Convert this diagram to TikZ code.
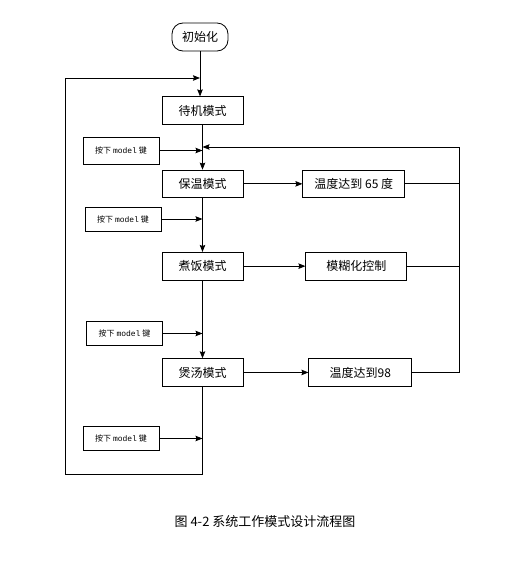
\documentclass[tikz,border=0pt]{standalone}
\usepackage{fontspec}
\setmainfont{Noto Sans CJK SC}
\setmonofont{Liberation Mono}
\usetikzlibrary{positioning, arrows.meta}
\tikzset{
    >={Stealth[length=7pt,width=5.5pt,inset=1pt]}, % filled arrow heads
    every path/.style={line width=0.8pt}, % all lines the same width
    modebox/.style={draw, rectangle, minimum width=81pt, minimum height=27.5pt, inner sep=0pt, font=\fontsize{12}{14}\selectfont}, % the mode boxes in the middle column
    sidebox/.style={modebox, minimum width=102pt}, % the boxes on the right
    keybox/.style={draw, rectangle, minimum width=76pt, minimum height=24pt, inner sep=0pt, font=\fontsize{8}{10}\selectfont}, % the key boxes on the left
}
\newcommand{\keytext}{按下 {\ttfamily model} 键}

\begin{document}
\begin{tikzpicture}[x=1pt, y=-1pt]
    \useasboundingbox[fill=white] (0,0) rectangle (529,575);
    % middle column
    \node[draw, rounded corners=11pt, minimum width=56pt, minimum height=28pt, inner sep=0pt, font=\fontsize{12}{14}\selectfont] (init) at (200,37) {初始化};
    \node[modebox, below=45pt of init, xshift=2.5pt] (standby) {待机模式};
    \node[modebox, below=45pt of standby] (keep) {保温模式};
    \node[modebox, below=54pt of keep] (cook) {煮饭模式};
    \node[modebox, below=78pt of cook] (soup) {煲汤模式};
    % right column
    \node[sidebox, right=59pt of keep] (t65) {温度达到 65 度};
    \node[sidebox, minimum width=101pt, right=62pt of cook] (fuzzy) {模糊化控制};
    \node[sidebox, minimum width=103pt, right=65pt of soup] (t98) {温度达到98};
    % key presses
    \node[keybox, minimum height=27pt] (k1) at (121,150.5) {\keytext};
    \node[keybox] (k2) at (123,219) {\keytext};
    \node[keybox] (k3) at (124.5,333.5) {\keytext};
    \node[keybox] (k4) at (121,438.5) {\keytext};
    % corner points of the return lines
    \coordinate (fb) at (459,147);
    \coordinate (lp) at (65,474);
    \coordinate (lptop) at (65,78);

    \draw[->] (init.south) -- (init.south |- standby.north);
    \draw[->] (standby) -- (keep);
    \draw[->] (keep) -- (cook);
    \draw[->] (cook) -- (soup);
    \draw[->] (keep) -- (t65);
    \draw[->] (cook) -- (fuzzy);
    \draw[->] (soup) -- (t98);
    \draw[->] (k1.east) -- (k1.east -| standby.south);
    \draw[->] (k2.east) -- (k2.east -| keep.south);
    \draw[->] (k3.east) -- (k3.east -| cook.south);
    \draw[->] (k4.east) -- (k4.east -| soup.south);
    % back to the top
    \draw (t65.east) -- (t65.east -| fb);
    \draw (fuzzy.east) -- (fuzzy.east -| fb);
    \draw[->] (t98.east) -- (t98.east -| fb) -- (fb) -- (fb -| standby.south);
    \draw[->] (soup.south) -- (soup.south |- lp) -- (lp) -- (lptop) -- (lptop -| init.south);

    \node[font=\fontsize{13}{15}\selectfont] (caption) at (265,522) {图 4-2 系统工作模式设计流程图};
\end{tikzpicture}
\end{document}
